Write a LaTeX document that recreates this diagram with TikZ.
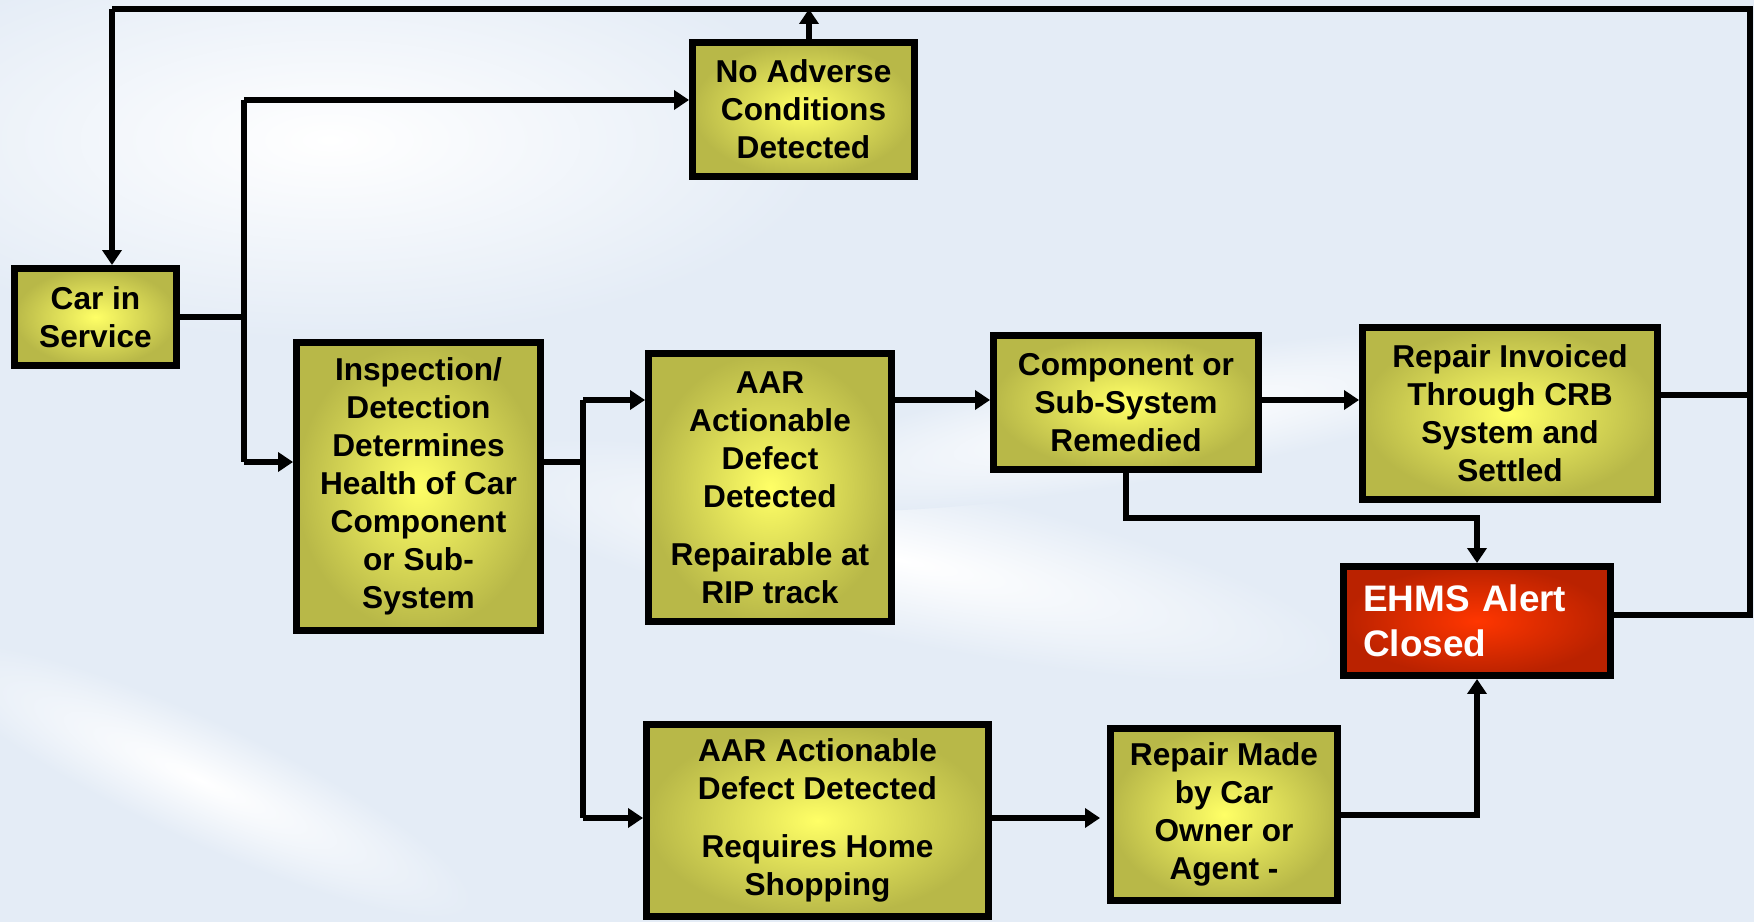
\documentclass[tikz,border=0pt]{standalone}
\usepackage{fontspec}
\setmainfont{Liberation Sans}
\usetikzlibrary{arrows.meta}
\definecolor{boxout}{RGB}{184,184,72}
\definecolor{boxin}{RGB}{255,255,102}
\definecolor{alertout}{RGB}{186,34,0}
\definecolor{alertin}{RGB}{255,54,0}
\definecolor{sky}{RGB}{228,236,246}
\tikzset{
  stage/.style={draw, line width=0.13cm, inner color=boxin, outer color=boxout,
    align=center, inner sep=0pt, font=\fontsize{18}{21.6}\selectfont\bfseries},
  alert/.style={draw, line width=0.13cm, inner color=alertin, outer color=alertout,
    align=left, text=white, inner xsep=0.4cm, inner ysep=0pt,
    font=\fontsize{21}{25.5}\selectfont\bfseries},
  wire/.style={line width=0.12cm},
  arr/.style={line width=0.12cm, -{Triangle[length=0.3cm,width=0.38cm]}},
  cloud/.style={inner color=white, outer color=sky},
}

\begin{document}
\begin{tikzpicture}[x=0.02cm, y=-0.02cm]
        % background
        \useasboundingbox (0,0) rectangle (1754,922);
        \fill[sky] (0,0) rectangle (1754,922);
        \shade[cloud] (330,140) ellipse (10cm and 4cm);
        \begin{scope}[transform canvas={rotate around={-12:(900,560)}}]
          \shade[cloud] (900,560) ellipse (9cm and 1.6cm);
        \end{scope}
        \begin{scope}[transform canvas={rotate around={10:(1150,420)}}]
          \shade[cloud] (1150,420) ellipse (8cm and 1.2cm);
        \end{scope}
        \begin{scope}[transform canvas={rotate around={-25:(200,780)}}]
          \shade[cloud] (200,780) ellipse (6cm and 1.2cm);
        \end{scope}

        % boxes
        \node[stage, minimum width=3.25cm, minimum height=1.95cm] (car) at (95.5,317) {Car in\\Service};
        \node[stage, minimum width=4.45cm, minimum height=2.69cm] (noadv) at (803.5,109.5) {No Adverse\\Conditions\\Detected};
        \node[stage, minimum width=4.89cm, minimum height=5.77cm] (insp) at (418.5,486.5) {Inspection/\\Detection\\Determines\\Health of Car\\Component\\or Sub-\\System};
        \node[stage, minimum width=4.87cm, minimum height=5.37cm] (rip) at (770,487.5) {AAR\\Actionable\\Defect\\Detected\\[0.4cm]Repairable at\\RIP track};
        \node[stage, minimum width=5.31cm, minimum height=2.69cm] (comp) at (1126,402.5) {Component or\\Sub-System\\Remedied};
        \node[stage, minimum width=5.91cm, minimum height=3.45cm] (invoice) at (1510,413.5) {Repair Invoiced\\Through CRB\\System and\\Settled};
        \node[alert, text width=4.55cm, minimum height=2.19cm] (ehms) at (1477,621) {EHMS Alert\\Closed};
        \node[stage, minimum width=6.85cm, minimum height=3.85cm] (home) at (817.5,820.5) {AAR Actionable\\Defect Detected\\[0.4cm]Requires Home\\Shopping};
        \node[stage, minimum width=4.55cm, minimum height=3.45cm] (owner) at (1224,814.5) {Repair Made\\by Car\\Owner or\\Agent -};

        % junctions
        \coordinate (inTop) at (244,100);
        \coordinate (inBot) at (244,462);
        \coordinate (outTop) at (583,400);
        \coordinate (outBot) at (583,818);
        \coordinate (retL) at (112,9);
        \coordinate (retR) at (1750,9);

        % from car into inspection
        \draw[wire] (car.east) -- (car.east -| inTop);
        \draw[wire] (inTop) -- (inBot);
        \draw[arr] (inTop) -- (noadv.west |- inTop);
        \draw[arr] (inBot) -- (insp.west |- inBot);

        % out of inspection
        \draw[wire] (insp.east |- inBot) -- (inBot -| outTop);
        \draw[wire] (outTop) -- (outBot);
        \draw[arr] (outTop) -- (rip.west |- outTop);
        \draw[arr] (outBot) -- (home.west |- outBot);
        \draw[arr] (rip.east |- outTop) -- (comp.west |- outTop);
        \draw[arr] (comp.east |- outTop) -- (invoice.west |- outTop);
        \draw[arr] (comp.south) -- ++(0,45) -| (ehms.north);
        \draw[arr, shorten >=0.14cm] (home.east |- outBot) -- (owner.west |- outBot);
        \draw[arr] (owner.east) -| (ehms.south);

        % back to service
        \draw[wire] ([yshift=0.37cm]invoice.east) -- ([yshift=0.37cm]invoice.east -| retR);
        \draw[wire] ([yshift=0.12cm]ehms.east) -- ([yshift=0.12cm]ehms.east -| retR) -- (retR) -- (retL);
        \draw[arr] (noadv.north -| 809,0) -- (retL -| 809,0);
        \draw[arr] (retL) -- (car.north -| retL);
\end{tikzpicture}
\end{document}
